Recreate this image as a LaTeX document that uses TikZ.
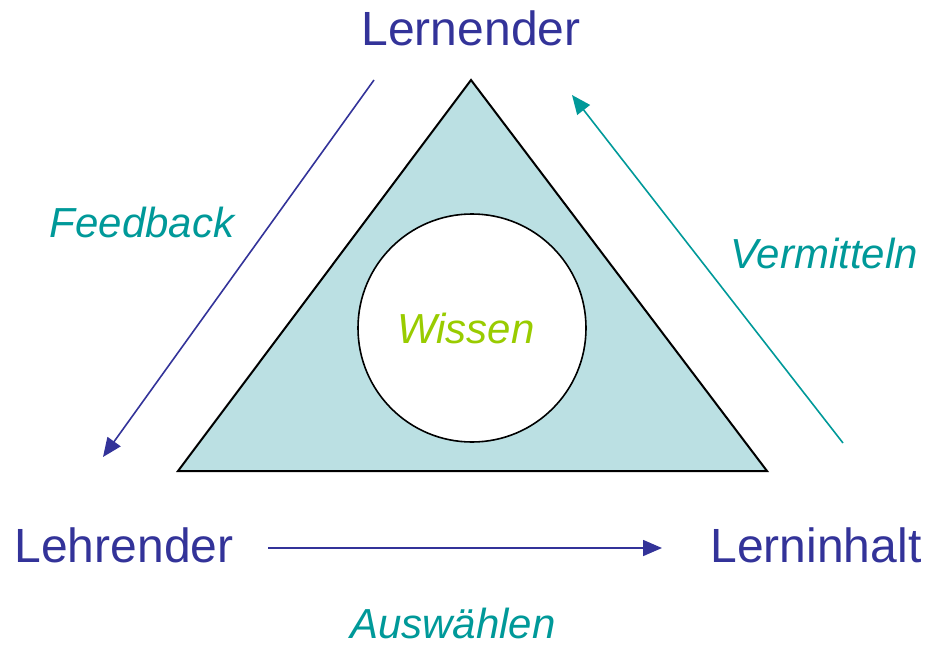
\documentclass[tikz,border=0pt]{standalone}
\usepackage{fontspec}
\setmainfont{Liberation Sans}
\usetikzlibrary{arrows.meta}
\definecolor{roleblue}{RGB}{51,51,153}
\definecolor{actteal}{RGB}{0,153,153}
\definecolor{knowgreen}{RGB}{153,204,0}
\definecolor{trifill}{RGB}{187,224,227}
\tikzset{
  role/.style={text=roleblue, font=\fontsize{48}{56}\selectfont, inner sep=0pt},
  act/.style={text=actteal, font=\fontsize{42}{50}\selectfont\itshape, inner sep=0pt},
  flow/.style={line width=1.6pt, -{Triangle[length=19pt,width=16pt]}},
}
\begin{document}
\begin{tikzpicture}[x=1pt,y=-1pt]
  \useasboundingbox (0,0) rectangle (929,648);
  % didactic triangle with knowledge in the centre
  \draw[line width=2pt, fill=trifill, line join=miter]
    (471,80) coordinate (apex) -- (767,471) coordinate (bright) -- (178,471) coordinate (bleft) -- cycle;
  \node[circle, draw, line width=1.6pt, fill=white, minimum size=228pt, inner sep=0pt] (core) at (472,328) {};
  \node[text=knowgreen, font=\fontsize{42}{50}\selectfont\itshape, inner sep=0pt] (wissen) at (466,328) {Wissen};

  % the three roles
  \node[role] (lernender) at (471,28) {Lernender};
  \node[role] (lehrender) at (124,545) {Lehrender};
  \node[role] (inhalt) at (816,545) {Lerninhalt};

  % activities between the roles
  \node[act] (feedback) at (142,222) {Feedback};
  \node[act] (vermitteln) at (824,253) {Vermitteln};
  \node[act] (auswaehlen) at (453,623) {Auswählen};

  \coordinate (fbA) at (374,80);
  \coordinate (fbB) at (103,457);
  \coordinate (vmA) at (843,443);
  \coordinate (vmB) at (572,95);
  \coordinate (awA) at (268,548);
  \coordinate (awB) at (662,548);
  \draw[flow, roleblue] (fbA) -- (fbB);
  \draw[flow, actteal] (vmA) -- (vmB);
  \draw[flow, roleblue] (awA) -- (awB);
\end{tikzpicture}
\end{document}
